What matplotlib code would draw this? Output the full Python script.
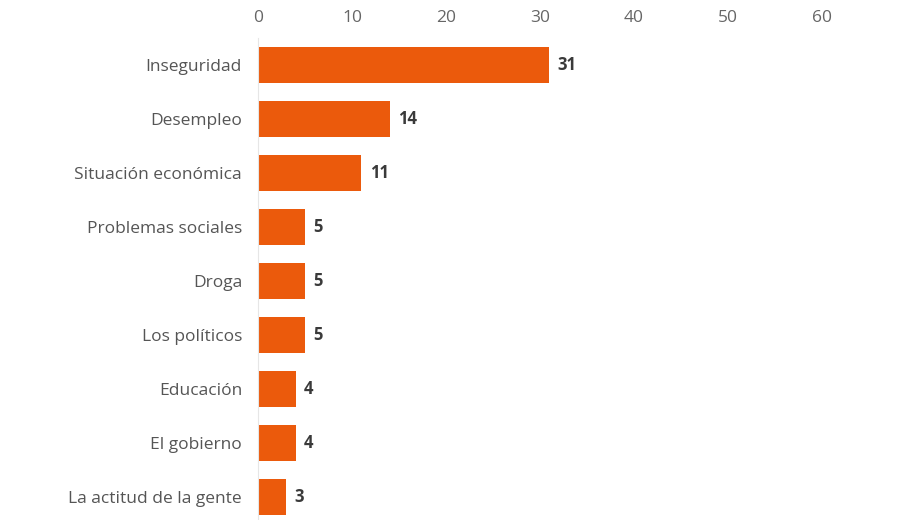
import matplotlib.pyplot as plt

categories = ['Inseguridad', 'Desempleo', 'Situación económica', 'Problemas sociales',
              'Droga', 'Los políticos', 'Educación', 'El gobierno', 'La actitud de la gente']
values = [31, 14, 11, 5, 5, 5, 4, 4, 3]
xticks = [0, 10, 20, 30, 40, 50, 60]

plt.rcParams['font.family'] = ['Open Sans', 'DejaVu Sans']

fig = plt.figure(figsize=(9, 5.2), dpi=100)
ax = fig.add_axes([258 / 900, 0, (822 - 258) / 900, 1 - 38 / 520])

ypos = list(range(len(categories)))
ax.barh(ypos, values, height=0.67, color='#EB5A0C')
for y, v in zip(ypos, values):
    ax.text(v + 0.9, y, str(v), va='center', ha='left', fontsize=12,
            fontweight='bold', color='#3a3a3a')

ax.set_xlim(0, 60)
ax.set_ylim(8.43, -0.5)
ax.set_yticks(ypos)
ax.set_yticklabels(categories, fontsize=12.5, color='#555555')
ax.set_xticks(xticks)
ax.set_xticklabels([str(t) for t in xticks], fontsize=12.5, color='#666666')
ax.xaxis.tick_top()
ax.tick_params(axis='both', length=0)
ax.tick_params(axis='x', pad=9)
ax.tick_params(axis='y', pad=11.5)
for s in ['top', 'right', 'bottom']:
    ax.spines[s].set_visible(False)
ax.spines['left'].set_color('#e6e6e6')

fig.savefig('out.png', dpi=100)
